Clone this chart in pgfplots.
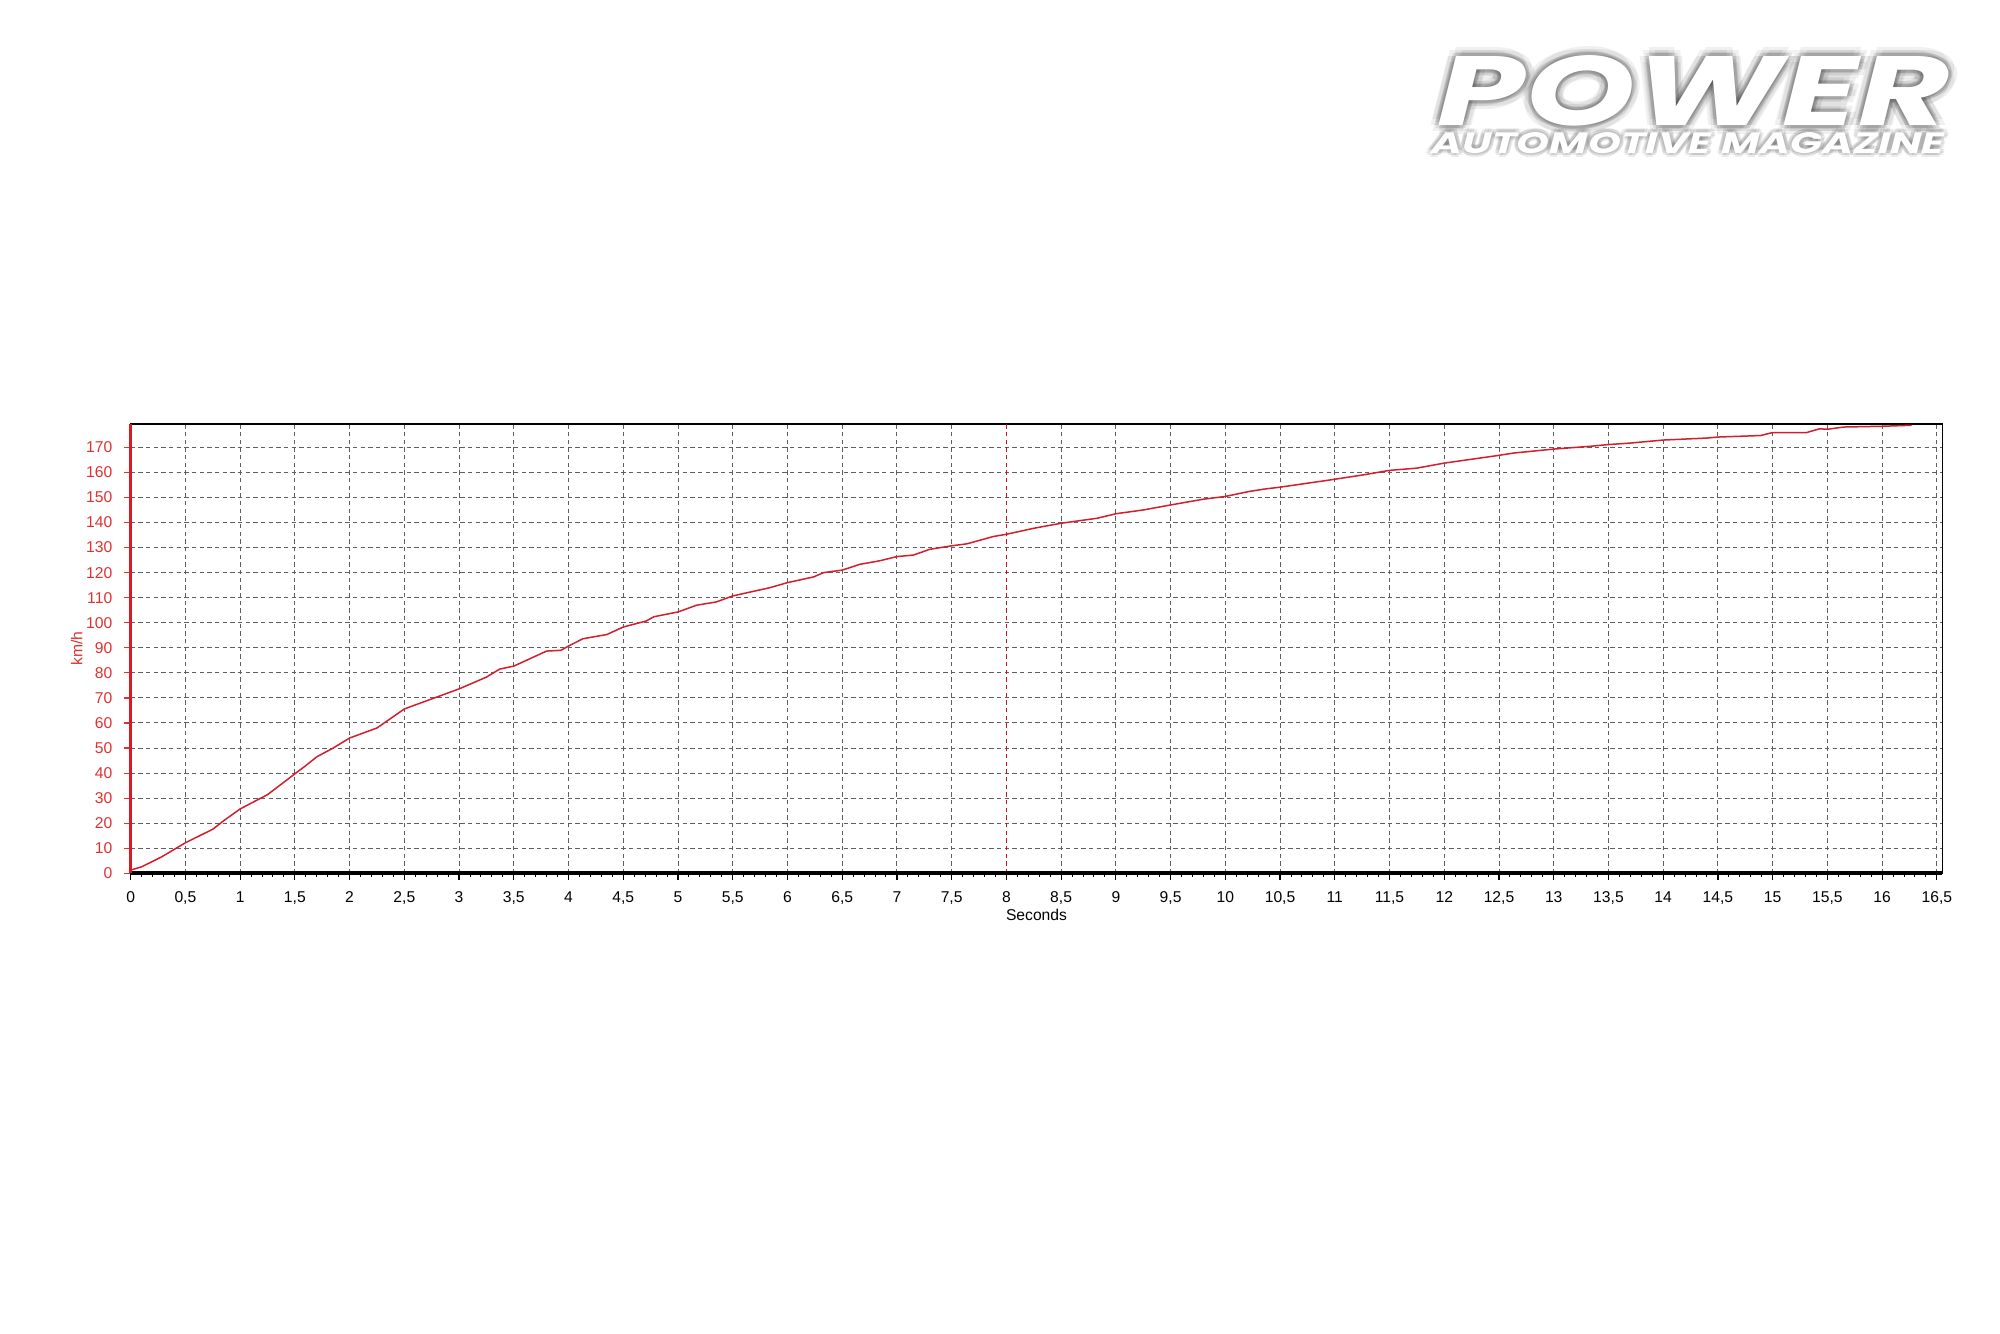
\documentclass[border=0pt]{standalone}
\usepackage{pgfplots}
\pgfplotsset{compat=1.18}
\usepackage{fontspec}
\setmainfont{Liberation Sans}
\newfontfamily\logofont{Poppins}
\definecolor{curvered}{RGB}{210,30,45}
\definecolor{axisred}{RGB}{220,25,35}
\definecolor{labelred}{RGB}{222,50,50}
\definecolor{gridgray}{RGB}{95,95,95}
\definecolor{markred}{RGB}{190,20,35}
\newcommand\powerword{\resizebox{153.6pt}{21pt}{\logofont\bfseries\itshape POWER}}
\newcommand\subword{\resizebox{153.9pt}{6.3pt}{\logofont\bfseries\itshape AUTOMOTIVE MAGAZINE}}
\begin{document}
\begin{tikzpicture}
\useasboundingbox[fill=white] (-39.2pt,-137.9pt) rectangle (560.8pt,262pt);
% logo glow
\foreach \a in {0,45,...,315}{
  \node[inner sep=0pt, anchor=south west, text=black, opacity=0.08, shift={(\a:1.2pt)}] at (391.9pt,223.9pt) {\powerword};
  \node[inner sep=0pt, anchor=south west, text=black, opacity=0.06, shift={(\a:2.6pt)}] at (391.9pt,223.9pt) {\powerword};
  \node[inner sep=0pt, anchor=south west, text=black, opacity=0.08, shift={(\a:1.2pt)}] at (390.1pt,215.8pt) {\subword};
}
\node[inner sep=0pt, anchor=south west, text=white] at (391.9pt,223.9pt) {\powerword};
\node[inner sep=0pt, anchor=south west, text=white] at (390.1pt,215.8pt) {\subword};
\begin{axis}[
  scale only axis, width=543.5pt, height=134.8pt,
  xmin=0, xmax=16.55, ymin=0, ymax=179.3,
  xtick={0,0.5,...,16.5}, ytick={0,10,...,170},
  minor x tick num=4,
  tick align=outside, xtick pos=left, ytick pos=left,
  major tick length=2pt, minor tick length=1pt,
  grid=major,
  major grid style={gridgray, line width=0.3pt, dash pattern=on 1.3pt off 1pt},
  axis line style={black, line width=0.45pt},
  xtick style={black, line width=0.35pt},
  minor x tick style={black, line width=0.3pt},
  ytick style={labelred, line width=0.35pt},
  ticklabel style={font=\fontsize{4.7}{5.6}\selectfont},
  yticklabel style={text=labelred},
  xticklabel style={text=black},
  /pgf/number format/use comma,
  /pgf/number format/assume math mode=true,
  xlabel={Seconds}, ylabel={km/h},
  xlabel style={font=\fontsize{4.7}{5.6}\selectfont, at={([yshift=-10.5pt]axis description cs:0.5,0)}, anchor=north, inner sep=0pt},
  ylabel style={font=\fontsize{4.7}{5.6}\selectfont, text=labelred, at={([xshift=-16.2pt]axis description cs:0,0.5)}, anchor=center, inner sep=0pt},
  clip=false,
]
\addplot[markred, line width=0.35pt, dash pattern=on 1.3pt off 1pt] coordinates {(8,0) (8,179.3)};
\addplot[curvered, line width=0.45pt] coordinates {
(0,1.3) (0.1,2.6) (0.28,6.5) (0.5,12.2) (0.75,17.6) (0.85,21) (1.0,25.7) (1.25,31.4)
(1.5,39.7) (1.6,43) (1.7,46.5) (1.85,50) (2.0,54) (2.25,58) (2.5,65.6) (2.75,69.6)
(3.0,73.6) (3.25,78.3) (3.37,81.5) (3.5,82.7) (3.8,88.7) (3.93,89) (4.0,90.7) (4.13,93.6)
(4.35,95.3) (4.5,98.3) (4.71,100.7) (4.78,102.4) (5.0,104.3) (5.17,107) (5.35,108.3)
(5.5,110.7) (5.84,114) (6.0,116) (6.24,118.3) (6.33,120) (6.5,121) (6.66,123.3) (6.84,124.7)
(7.0,126.4) (7.15,127) (7.3,129.3) (7.5,130.7) (7.64,131.5) (7.88,134.4) (8.0,135.3)
(8.25,137.7) (8.5,139.7) (8.83,141.7) (9.0,143.5) (9.25,145) (9.5,147) (9.8,149.3)
(10.0,150.4) (10.22,152.4) (10.35,153.3) (10.5,154.1) (10.96,157) (11.26,159) (11.5,160.8)
(11.75,161.7) (12.0,163.7) (12.5,166.8) (12.63,167.7) (13.0,169.3) (13.33,170.4) (13.5,171.1)
(13.7,171.7) (14.0,172.9) (14.4,173.7) (14.5,174.1) (14.89,174.7) (15.0,175.9) (15.31,175.9)
(15.43,177.4) (15.5,177.2) (15.65,178.1) (16.0,178.4) (16.27,178.8)
};
\draw[black, line width=1.2pt] (rel axis cs:0,0) -- (rel axis cs:1,0);
\draw[axisred, line width=1pt] (rel axis cs:0,0) -- (rel axis cs:0,1);
\end{axis}
\end{tikzpicture}
\end{document}
